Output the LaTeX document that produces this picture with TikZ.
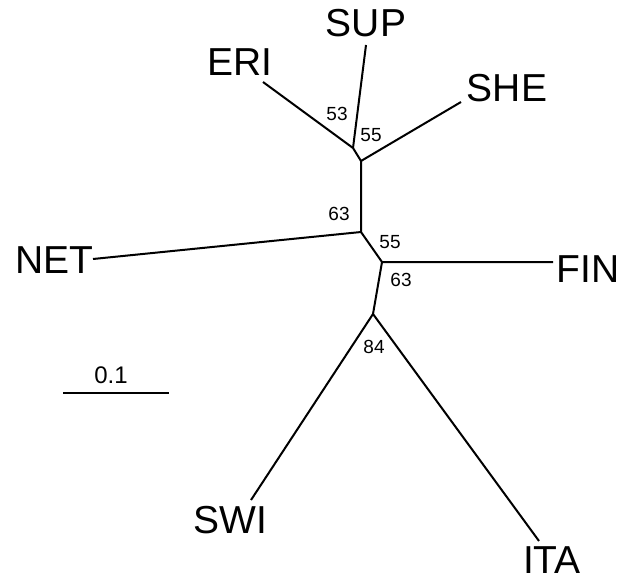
\documentclass[tikz,border=0pt]{standalone}
\usepackage{fontspec}
\setmainfont{Liberation Sans}
\begin{document}
\begin{tikzpicture}[x=1pt,y=-1pt,
  branch/.style={line width=2pt, line cap=butt},
  taxon/.style={anchor=base, inner sep=0pt, font=\fontsize{39}{39}\selectfont},
  boot/.style={anchor=base, inner sep=0pt, font=\fontsize{19}{19}\selectfont}]
\useasboundingbox (0,0) rectangle (631,578);
% internal nodes
\coordinate (A) at (353,148);
\coordinate (B) at (361,161);
\coordinate (C) at (361,232);
\coordinate (D) at (382,262);
\coordinate (E) at (373,314);
% tips
\coordinate (eri) at (263,82);
\coordinate (sup) at (366,45);
\coordinate (she) at (461,102);
\coordinate (net) at (93,259);
\coordinate (fin) at (553,262);
\coordinate (swi) at (251,500);
\coordinate (ita) at (539,541);
% branches
\draw[branch] (eri) -- (A) -- (B) -- (she);
\draw[branch] (sup) -- (A);
\draw[branch] (B) -- (C) -- (D) -- (fin);
\draw[branch] (net) -- (C);
\draw[branch] (D) -- (E);
\draw[branch] (swi) -- (E) -- (ita);
% taxon labels
\node[taxon] (lsup) at (366,37) {SUP};
\node[taxon] (leri) at (240,75) {ERI};
\node[taxon] (lshe) at (507,101) {SHE};
\node[taxon] (lnet) at (54,273) {NET};
\node[taxon] (lfin) at (588,282) {FIN};
\node[taxon] (lswi) at (230,533) {SWI};
\node[taxon] (lita) at (552,573) {ITA};
% bootstrap values
\node[boot] (b1) at (337,120) {53};
\node[boot] (b2) at (371,141) {55};
\node[boot] (b3) at (339,220) {63};
\node[boot] (b4) at (390,248) {55};
\node[boot] (b5) at (401,286) {63};
\node[boot] (b6) at (374,353) {84};
% scale bar
\coordinate (s1) at (63,393);
\coordinate (s2) at (169,393);
\draw[branch] (s1) -- (s2);
\node[boot, font=\fontsize{24}{24}\selectfont] (scale) at (111,383) {0.1};
\end{tikzpicture}
\end{document}
